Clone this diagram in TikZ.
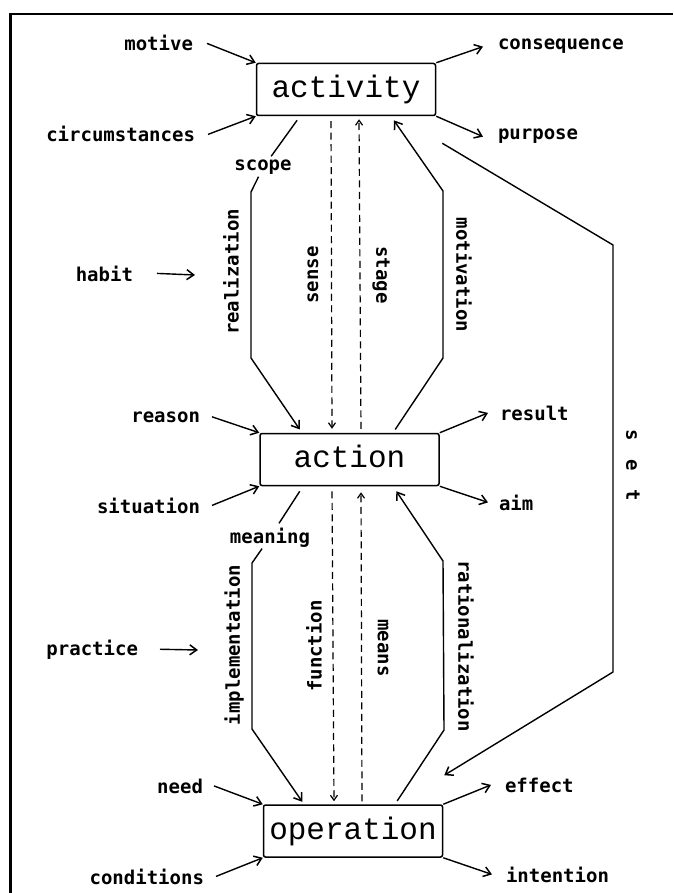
\documentclass[tikz,border=0pt]{standalone}
\usepackage{fontspec}
\newfontfamily\lblfont{DejaVu Sans Mono Bold}
\newfontfamily\boxfont{Liberation Mono}
\usetikzlibrary{arrows.meta}
\begin{document}
\begin{tikzpicture}[x=1pt,y=-1pt,
  frame/.style={line width=2.6pt},
  conn/.style={line width=1.4pt, line join=round},
  arr/.style={conn, -{Straight Barb[length=7pt,width=10pt,line width=1.5pt]}},
  darr/.style={line width=1.2pt, dash pattern=on 7pt off 4.5pt, -{Straight Barb[length=5pt,width=7pt,line width=1.2pt]}},
  lbl/.style={font=\lblfont\fontsize{19}{19}\selectfont, inner sep=0pt, outer sep=0pt},
  vlbl/.style={lbl},
  box/.style={draw, line width=1.5pt, rounded corners=2pt, minimum width=179pt, minimum height=52pt,
    inner sep=0pt, font=\boxfont\fontsize{31}{31}\selectfont, text height=22pt, text depth=6pt}]
\useasboundingbox (0,0) rectangle (673,893);
\draw[frame] (10.5,893) -- (10.5,14) -- (673,14);

% boxes
\node[box] (act) at (346,89.5) {activity};
\node[box] (act2) at (349.5,459.5) {action};
\node[box] (op) at (353,831) {operation};

% side labels
\node[lbl, anchor=base east] (motive) at (193,51) {motive};
\node[lbl, anchor=base east] (circ) at (195,142) {circumstances};
\node[lbl, anchor=base west] (conseq) at (498,50) {consequence};
\node[lbl, anchor=base west] (purpose) at (498,140) {purpose};
\node[lbl, anchor=base east] (habit) at (133,281) {habit};
\node[lbl, anchor=base east] (reason) at (200,422) {reason};
\node[lbl, anchor=base west] (result) at (500,420) {result};
\node[lbl, anchor=base east] (situation) at (200,513) {situation};
\node[lbl, anchor=base west] (aim) at (499,510) {aim};
\node[lbl, anchor=base east] (practice) at (138,655) {practice};
\node[lbl, anchor=base east] (need) at (203,793) {need};
\node[lbl, anchor=base west] (effect) at (505,792) {effect};
\node[lbl, anchor=base east] (cond) at (204,884) {conditions};
\node[lbl, anchor=base west] (intention) at (506,882) {intention};
\node[lbl, anchor=base] (scope) at (263,171) {scope};
\node[lbl, anchor=base] (meaning) at (270,543) {meaning};

% vertical labels
\node[vlbl, rotate=90] (realization) at (231,272) {realization};
\node[vlbl, rotate=90] (sense) at (313,275) {sense};
\node[vlbl, rotate=-90] (stage) at (381,275) {stage};
\node[vlbl, rotate=-90] (motivation) at (464,275) {motivation};
\node[vlbl, rotate=90] (implementation) at (234,645) {implementation};
\node[vlbl, rotate=90] (function) at (314,646) {function};
\node[vlbl, rotate=-90] (means) at (383,648) {means};
\node[vlbl, rotate=-90] (rationalization) at (466,646) {rationalization};
\node[vlbl, rotate=-90] (setlbl) at (633,465) {s\hspace{18.5pt}e\hspace{18.5pt}t};

% free arrow tips
\coordinate (habitTip) at (195,275);
\coordinate (practiceTip) at (198,650);

% input / output arrows
\draw[arr] ([xshift=14pt]motive.east) -- (act.north west);
\draw[arr] ([xshift=13pt]circ.east) -- (act.south west);
\draw[arr] (act.north east) -- ([xshift=-15pt]conseq.west);
\draw[arr] (act.south east) -- ([xshift=-15pt]purpose.west);
\draw[arr] ([xshift=24pt]habit.east) -- (habitTip);
\draw[arr] ([xshift=12pt]reason.east) -- (act2.north west);
\draw[arr] (act2.north east) -- ([xshift=-12pt]result.west);
\draw[arr] ([xshift=12pt]situation.east) -- (act2.south west);
\draw[arr] (act2.south east) -- ([xshift=-11pt]aim.west);
\draw[arr] ([xshift=22pt]practice.east) -- (practiceTip);
\draw[arr] ([xshift=11pt]need.east) -- (op.north west);
\draw[arr] ([xshift=12pt]cond.east) -- (op.south west);
\draw[arr] (op.north east) -- ([xshift=-14pt]effect.west);
\draw[arr] (op.south east) -- ([xshift=-14pt]intention.west);

% activity <-> action
\draw[conn, shorten <=5pt, shorten >=5pt] ([xshift=-46pt]act.south) -- (scope);
\draw[arr, shorten <=2pt, shorten >=4pt] (scope) -- (251,192) -- (251,358) -- ([xshift=-47.5pt]act2.north);
\draw[darr, shorten <=5pt, shorten >=4pt] ([xshift=-15pt]act.south) -- ([xshift=-17.5pt]act2.north);
\draw[darr, shorten <=4pt, shorten >=3pt] ([xshift=11.5pt]act2.north) -- ([xshift=13pt]act.south);
\draw[arr, shorten <=4pt, shorten >=5pt] ([xshift=43.5pt]act2.north) -- (443,358) -- (443,191) -- ([xshift=45pt]act.south);

% set
\draw[arr] ([xshift=6pt,yshift=-27pt]act.south east) -- (613,245) -- (613,672) -- ([xshift=1pt,yshift=29pt]op.north east);

% action <-> operation
\draw[conn, shorten <=6pt, shorten >=5pt] ([xshift=-46.5pt]act2.south) -- (meaning);
\draw[arr, shorten <=2pt, shorten >=3pt] (meaning) -- (252,563) -- (252,729) -- ([xshift=-49pt]op.north);
\draw[darr, shorten <=5pt, shorten >=3pt] ([xshift=-17.5pt]act2.south) -- ([xshift=-19pt]op.north);
\draw[darr, shorten <=3pt, shorten >=6pt] ([xshift=9pt]op.north) -- ([xshift=11.5pt]act2.south);
\draw[arr, shorten <=4pt, shorten >=6pt] ([xshift=42pt]op.north) -- (444,730) -- (443,561) -- ([xshift=43.5pt]act2.south);
\end{tikzpicture}
\end{document}
